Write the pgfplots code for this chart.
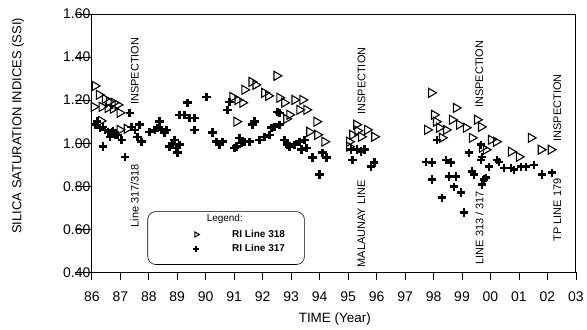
\documentclass[border=0pt]{standalone}
\usepackage{fontspec}
\setmainfont{Liberation Sans}
\usepackage{pgfplots}
\pgfplotsset{compat=1.18}
\begin{document}
\begin{tikzpicture}
\begin{axis}[
  scale only axis, width=485pt, height=259pt,
  xmin=86, xmax=103, ymin=0.4, ymax=1.6,
  xtick={86,87,...,103},
  xticklabels={86,87,88,89,90,91,92,93,94,95,96,97,98,99,00,01,02,03},
  ytick={0.4,0.6,...,1.61},
  yticklabel style={xshift=10pt, /pgf/number format/fixed, /pgf/number format/fixed zerofill, /pgf/number format/precision=2},
  /pgf/number format/assume math mode=true,
  tick label style={font=\fontsize{14}{16}\selectfont},
  xticklabel style={yshift=-8pt},
  xtick pos=bottom, ytick pos=left, tick align=outside,
  major tick length=8pt,
  ytick style={/pgfplots/major tick length=17pt},
  tick style={black, line width=0.8pt},
  axis line style={line width=0.9pt},
  every axis y label/.style={at={(axis description cs:-0.1526,0.5676)}, rotate=90, anchor=center, font=\fontsize{13}{15}\selectfont},
  every axis x label/.style={at={(axis description cs:0.502,-0.1815)}, anchor=center, font=\fontsize{13.5}{15}\selectfont},
  ylabel={SILICA SATURATION INDICES (SSI)},
  xlabel={TIME (Year)},
  clip=false,
  legend style={at={(rel axis cs:0.203,0.180)}, anchor=north west, draw=none, fill=none,
    font=\fontsize{10}{12}\selectfont, row sep=1.5pt,
    /tikz/every odd column/.append style={column sep=31pt}},
  legend cell align=left,
]
\addplot[only marks, mark=triangle, mark size=5.2pt, mark options={rotate=-90, line width=1.1pt, draw=black, fill=white}, forget plot] coordinates {
(86.11,1.266)(86.25,1.225)(86.46,1.206)(86.60,1.192)(86.77,1.188)(86.91,1.178)
(86.07,1.169)(86.35,1.169)(86.56,1.164)(86.74,1.160)(86.98,1.141)(86.32,1.104)(87.23,1.067)(86.98,1.062)
(92.49,1.313)(91.61,1.285)(91.75,1.271)(91.36,1.248)(90.94,1.215)(91.12,1.201)(91.29,1.188)
(92.06,1.234)(92.20,1.220)(92.59,1.211)(92.76,1.188)(93.12,1.201)(93.40,1.201)(93.54,1.155)
(93.29,1.155)(92.94,1.132)(92.83,1.113)(91.08,1.100)(93.89,1.100)(93.64,1.053)(93.92,1.039)(94.17,1.007)
(95.29,1.086)(95.15,1.039)(95.04,1.007)(95.04,0.984)(95.46,1.030)(95.67,1.062)(95.92,1.030)(95.33,1.058)
(97.92,1.234)(98.79,1.164)(98.02,1.132)(98.09,1.100)(97.78,1.062)(98.20,1.072)(98.44,1.062)
(98.30,1.025)(98.65,1.109)(98.90,1.086)(99.14,1.072)(99.53,1.109)(99.67,1.076)(99.35,1.025)
(100.02,1.016)(100.20,1.007)(99.70,0.979)(99.84,0.970)(100.72,0.961)(101.00,0.937)(101.42,1.025)
(101.77,0.970)(102.12,0.970)
};
\addplot[only marks, mark=+, mark size=4.2pt, mark options={line width=2.5pt, draw=black}, forget plot] coordinates {
(86.11,1.086)(86.18,1.100)(86.28,1.072)(86.39,1.076)(86.46,1.062)(86.56,1.053)(86.70,1.049)
(86.74,1.058)(86.63,1.030)(86.81,1.039)(86.91,1.039)(87.05,1.016)(86.39,0.984)(87.16,0.937)
(87.33,1.141)(87.40,1.076)(87.51,1.062)(87.68,1.086)(87.61,1.030)(87.75,1.007)(88.03,1.053)
(88.21,1.062)(88.38,1.100)(88.31,1.072)(88.45,1.062)(88.63,1.062)(88.56,1.049)(88.91,1.016)
(88.73,0.984)(88.84,0.993)(88.98,0.979)(89.01,0.956)(89.08,0.993)(89.08,1.132)(89.26,1.132)
(89.36,1.188)(89.43,1.118)(89.61,1.118)(89.61,1.062)(90.03,1.215)
(90.24,1.049)(90.38,1.007)(90.49,0.993)(90.59,1.007)(90.84,1.192)(90.77,1.155)(91.01,0.979)
(91.08,0.984)(91.19,1.025)(91.26,1.002)(91.36,1.007)(91.54,1.007)(91.71,1.100)(91.64,1.086)
(91.89,1.016)(92.06,1.030)(92.24,1.039)(92.31,1.072)(92.41,1.076)(92.59,1.086)(92.52,1.146)
(92.59,1.141)(92.76,1.016)(92.87,0.993)(92.94,0.984)(93.12,0.993)(93.29,1.007)(93.36,0.970)
(93.54,0.979)(93.47,1.016)(93.75,0.933)(94.10,0.956)(94.24,0.933)(93.99,0.854)
(95.11,0.970)(95.15,0.923)(95.32,0.970)(95.46,0.961)(95.57,0.970)(95.81,0.891)(95.92,0.910)
(98.13,1.016)(97.74,0.914)(97.95,0.910)(98.44,0.923)(98.62,0.910)(97.95,0.831)(98.55,0.845)
(98.79,0.845)(98.72,0.798)(98.97,0.771)(98.30,0.747)(99.07,0.678)(99.25,0.956)(99.35,0.868)
(99.42,0.854)(99.67,0.993)(99.70,0.937)(99.67,0.923)(99.70,0.808)(99.77,0.831)(99.84,0.840)
(99.95,0.891)(100.23,0.923)(100.30,0.914)(100.48,0.886)(100.72,0.886)(100.83,0.877)(101.07,0.891)
(101.25,0.891)(101.53,0.900)(101.81,0.854)(102.16,0.863)
};
\addlegendimage{only marks, mark=triangle, mark size=3pt, mark options={rotate=-90, line width=1pt, fill=white}}
\addlegendentry{\textbf{RI Line 318}}
\addlegendimage{only marks, mark=+, mark size=3pt, mark options={line width=1.9pt}}
\addlegendentry{\textbf{RI Line 317}}
\draw[rounded corners=8pt, line width=0.6pt] (rel axis cs:0.1155,0.2355) rectangle (rel axis cs:0.4392,0.0309);
\node[anchor=west, inner sep=0pt, font=\fontsize{10}{12}\selectfont] at (rel axis cs:0.237,0.2085) {Legend:};
\begin{scope}[every node/.style={rotate=90, anchor=west, inner sep=0pt, font=\fontsize{11}{13}\selectfont}]
\node at (axis cs:87.51,1.178) {INSPECTION};
\node at (axis cs:87.51,0.608) {Line 317/318};
\node at (axis cs:95.47,1.132) {INSPECTION};
\node at (axis cs:95.47,0.423) {MALAUNAY LINE};
\node at (axis cs:99.61,1.164) {INSPECTION};
\node at (axis cs:99.61,0.437) {LINE 313 / 317};
\node at (axis cs:102.35,1.007) {INSPECTION};
\node at (axis cs:102.35,0.544) {TP LINE 179};
\end{scope}
\end{axis}
\path (-92pt,-56pt) rectangle (495pt,273pt);
\end{tikzpicture}
\end{document}
